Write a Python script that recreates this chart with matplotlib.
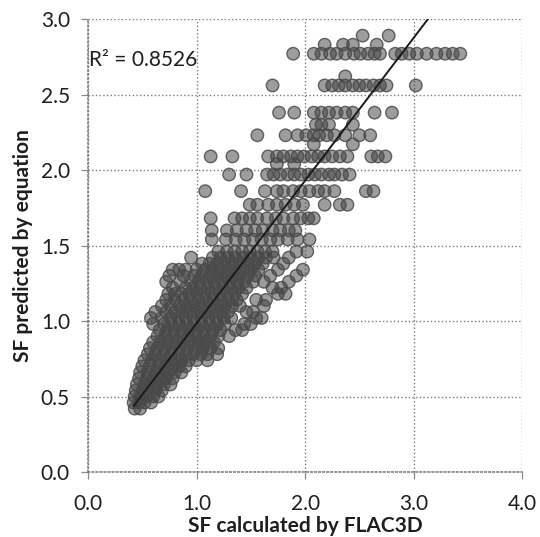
import numpy as np
import matplotlib.pyplot as plt

# SF calculated by FLAC3D (x) vs SF predicted by equation (y)
# upper part: points sit on discrete rows of predicted SF
row_y = [2.89, 2.83, 2.77, 2.62, 2.56, 2.38, 2.30, 2.23, 2.17, 2.09, 2.04,
         1.97, 1.86, 1.77, 1.68, 1.60, 1.54]
row_x = [
    [2.53, 2.77],
    [2.18, 2.35, 2.44, 2.66],
    [1.89, 2.08, 2.15, 2.23, 2.29, 2.37, 2.45, 2.51, 2.58, 2.64, 2.69, 2.83,
     2.89, 2.96, 3.03, 3.12, 3.21, 3.29, 3.36, 3.43],
    [2.37],
    [1.70, 2.18, 2.25, 2.31, 2.37, 2.44, 2.50, 2.56, 2.63, 2.69, 2.75, 3.02],
    [1.76, 1.90, 2.08, 2.15, 2.22, 2.29, 2.37, 2.44, 2.64, 2.80],
    [2.10, 2.15, 2.22, 2.44],
    [1.56, 1.82, 1.93, 2.01, 2.08, 2.13, 2.20, 2.27, 2.37, 2.50, 2.60],
    [2.08, 2.44],
    [1.13, 1.33, 1.66, 1.74, 1.80, 1.87, 1.93, 1.99, 2.06, 2.12, 2.18, 2.25,
     2.32, 2.39, 2.61, 2.67, 2.74],
    [1.74, 1.90],
    [1.30, 1.46, 1.65, 1.71, 1.77, 1.84, 1.90, 1.96, 2.03, 2.09, 2.15, 2.22,
     2.27, 2.34, 2.41],
    [1.08, 1.41, 1.63, 1.74, 1.80, 1.89, 1.96, 2.04, 2.12, 2.18, 2.27, 2.56, 2.63],
    [1.49, 1.56, 1.66, 1.74, 1.82, 1.90, 1.98, 2.18, 2.32, 2.39],
    [1.13, 1.35, 1.42, 1.49, 1.56, 1.65, 1.73, 1.80, 1.89, 1.96, 2.03, 2.08],
    [1.14, 1.28, 1.37, 1.46, 1.54, 1.61, 1.70, 1.77, 1.85, 1.91],
    [1.14, 1.27, 1.36, 1.44, 1.52, 1.60, 1.68, 1.75, 1.84, 1.93, 2.04],
]

# lower part: dense band along the trend line
band_y = [0.42, 0.46, 0.50, 0.54, 0.58, 0.62, 0.66, 0.70, 0.74, 0.78, 0.82,
          0.86, 0.90, 0.94, 0.98, 1.02, 1.06, 1.10, 1.14, 1.18, 1.22, 1.26,
          1.30, 1.34, 1.38, 1.42, 1.46]
band_x = [
    [0.43, 0.48],
    [0.42, 0.47, 0.52, 0.58],
    [0.43, 0.48, 0.54, 0.60, 0.65],
    [0.44, 0.50, 0.56, 0.62, 0.68],
    [0.45, 0.52, 0.58, 0.64, 0.70, 0.76],
    [0.47, 0.54, 0.60, 0.66, 0.72, 0.78],
    [0.48, 0.55, 0.62, 0.68, 0.74, 0.80, 0.86],
    [0.50, 0.57, 0.64, 0.71, 0.78, 0.84, 0.90],
    [0.52, 0.59, 0.66, 0.73, 0.80, 0.86, 0.93, 1.00, 1.10],
    [0.55, 0.62, 0.69, 0.76, 0.83, 0.90, 0.97, 1.04, 1.10, 1.19],
    [0.57, 0.64, 0.71, 0.78, 0.85, 0.92, 0.99, 1.06, 1.13, 1.20],
    [0.60, 0.67, 0.74, 0.81, 0.88, 0.95, 1.02, 1.09, 1.16],
    [0.64, 0.71, 0.78, 0.85, 0.92, 0.99, 1.06, 1.13, 1.20, 1.30],
    [0.66, 0.73, 0.80, 0.87, 0.94, 1.01, 1.08, 1.15, 1.22, 1.36, 1.42],
    [0.60, 0.70, 0.77, 0.84, 0.91, 0.98, 1.05, 1.12, 1.19, 1.26, 1.44, 1.50],
    [0.58, 0.68, 0.76, 0.83, 0.90, 0.97, 1.04, 1.11, 1.18, 1.25, 1.32, 1.55, 1.60],
    [0.62, 0.72, 0.80, 0.87, 0.94, 1.01, 1.08, 1.15, 1.22, 1.29, 1.46, 1.52],
    [0.68, 0.76, 0.84, 0.91, 0.98, 1.05, 1.12, 1.19, 1.26, 1.33, 1.40, 1.62],
    [0.72, 0.80, 0.88, 0.95, 1.02, 1.09, 1.16, 1.23, 1.30, 1.37, 1.55, 1.64],
    [0.74, 0.80, 0.86, 0.93, 1.00, 1.07, 1.14, 1.21, 1.28, 1.35, 1.42, 1.75, 1.82],
    [0.78, 0.90, 0.97, 1.04, 1.11, 1.18, 1.25, 1.32, 1.39, 1.46, 1.70, 1.78],
    [0.72, 0.85, 0.95, 1.02, 1.09, 1.16, 1.23, 1.30, 1.37, 1.44, 1.52, 1.62, 1.85],
    [0.75, 0.88, 0.98, 1.05, 1.12, 1.19, 1.26, 1.33, 1.40, 1.47, 1.54, 1.68, 1.92],
    [0.78, 0.84, 0.90, 1.00, 1.08, 1.15, 1.22, 1.29, 1.36, 1.43, 1.50, 1.57,
     1.75, 1.98],
    [1.05, 1.12, 1.19, 1.26, 1.33, 1.40, 1.47, 1.54, 1.61, 1.80],
    [0.95, 1.15, 1.22, 1.29, 1.36, 1.43, 1.50, 1.57, 1.64, 1.71, 1.85],
    [1.20, 1.28, 1.35, 1.42, 1.49, 1.56, 1.63, 1.70, 1.92, 2.02],
]

# linear trend line and its R^2 as printed on the chart
trend_slope = 0.945
trend_intercept = 0.04
r_squared = "0.8526"

xs, ys = [], []
for yv, xrow in zip(row_y + band_y, row_x + band_x):
    xs += xrow
    ys += [yv] * len(xrow)
xs = np.array(xs)
ys = np.array(ys)

plt.rcParams['font.family'] = ['Lato', 'DejaVu Sans']

fig = plt.figure(figsize=(5.4, 5.37), dpi=100)
ax = fig.add_axes([0.163, 0.121, 0.804, 0.8436])

# translucent fill so that stacked markers go dark, then the outlines
ax.scatter(xs, ys, s=80, facecolor='#333333', edgecolor='none', alpha=0.48, zorder=3)
ax.scatter(xs, ys, s=80, facecolor='none', edgecolor='#4a4a4a',
           linewidth=1.0, alpha=0.85, zorder=3)

lx = np.array([xs.min(), xs.max()])
ax.plot(lx, trend_slope * lx + trend_intercept, color='#1a1a1a', lw=1.4, zorder=4)

ax.text(0.01, 2.73, "R² = " + r_squared, fontsize=15, color='#1e1e1e',
        ha='left', va='center', zorder=5)

ax.set_xlim(0, 4.0)
ax.set_ylim(0, 3.0)
ax.set_xticks(np.arange(0, 4.01, 1.0))
ax.set_yticks(np.arange(0, 3.01, 0.5))
ax.set_xticklabels(["%.1f" % v for v in np.arange(0, 4.01, 1.0)])
ax.set_yticklabels(["%.1f" % v for v in np.arange(0, 3.01, 0.5)])
ax.grid(True, linestyle=':', color='#7a7a7a', linewidth=1.0, zorder=0)
ax.set_axisbelow(True)

for side in ['top', 'right']:
    ax.spines[side].set_visible(False)
for side in ['left', 'bottom']:
    ax.spines[side].set_color('#777777')
    ax.spines[side].set_linewidth(1.1)
    ax.spines[side].set_linestyle(':')
ax.tick_params(direction='out', length=5, width=0.9, color='#8a8a8a',
               labelsize=15, labelcolor='#1e1e1e')
ax.tick_params(axis='x', pad=11)
ax.tick_params(axis='y', pad=8)

ax.set_xlabel("SF calculated by FLAC3D", fontsize=15, fontweight='bold',
              color='#1e1e1e', labelpad=1)
ax.set_ylabel("SF predicted by equation", fontsize=15, fontweight='bold',
              color='#1e1e1e', labelpad=6)

fig.savefig("out.png", dpi=100)
